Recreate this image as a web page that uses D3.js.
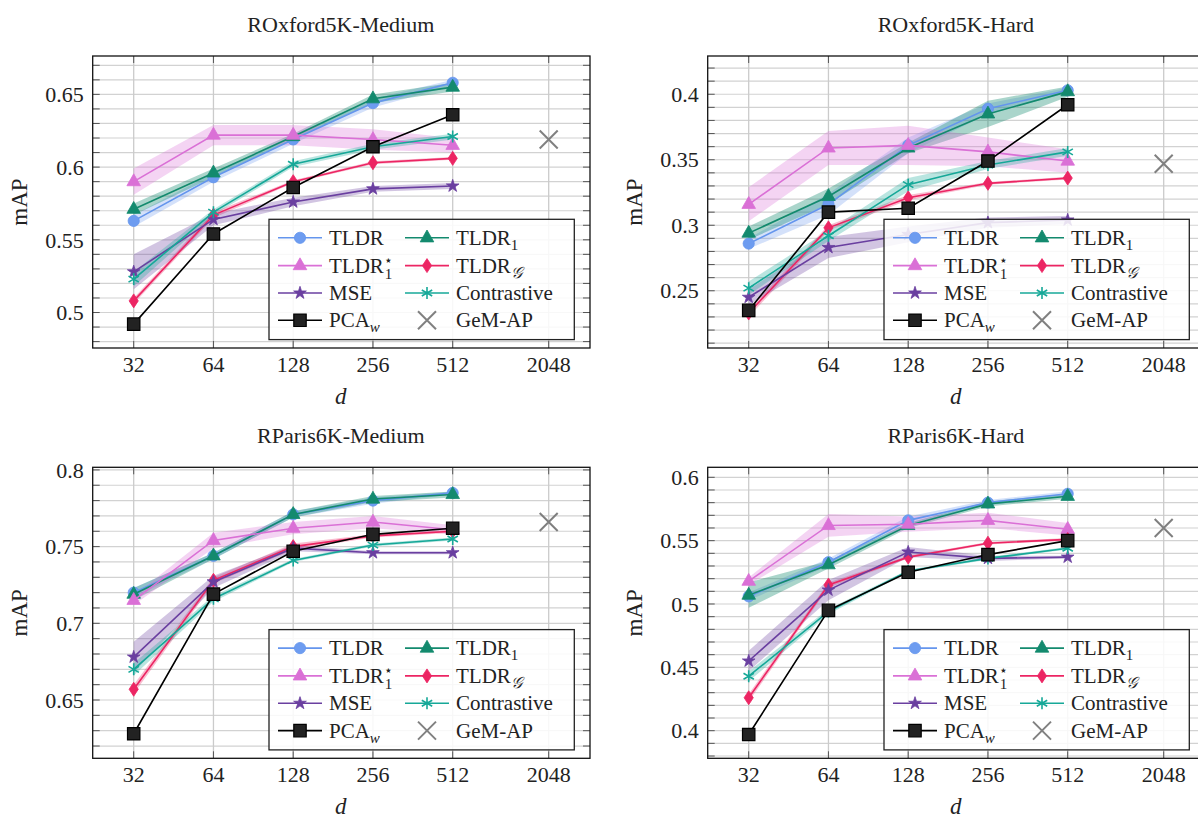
<!DOCTYPE html>
<html><head><meta charset="utf-8">
<script src="https://cdn.jsdelivr.net/npm/d3@7"></script>
<style>
html,body{margin:0;padding:0;background:#fff;}
svg text{font-family:'Liberation Serif','DejaVu Serif',serif;fill:#222;}
</style></head>
<body><svg id="c" width="1198" height="818" font-family="Liberation Serif, DejaVu Serif, serif"></svg>
<script>
// ---------- data ----------
const dims = [32, 64, 128, 256, 512, 2048];
const dimLabels = ["32", "64", "128", "256", "512", "2048"];
const methodDims = [32, 64, 128, 256, 512];
const gemDim = 2048;
const titles = ["ROxford5K-Medium", "ROxford5K-Hard", "RParis6K-Medium", "RParis6K-Hard"];

// ROxford5K-Medium
const oxM_TLDR = [0.563, 0.593, 0.619, 0.644, 0.658];
const oxM_TLDR_sd = [0.004, 0.003, 0.003, 0.003, 0.002];
const oxM_TLDR1 = [0.571, 0.596, 0.621, 0.647, 0.655];
const oxM_TLDR1_sd = [0.004, 0.003, 0.002, 0.003, 0.003];
const oxM_TLDR1s = [0.590, 0.622, 0.622, 0.619, 0.615];
const oxM_TLDR1s_sd = [0.009, 0.007, 0.007, 0.007, 0.005];
const oxM_TLDRG = [0.508, 0.567, 0.590, 0.603, 0.606];
const oxM_TLDRG_sd = [0.002, 0.002, 0.001, 0.001, 0.001];
const oxM_MSE = [0.528, 0.564, 0.576, 0.585, 0.587];
const oxM_MSE_sd = [0.012, 0.004, 0.003, 0.002, 0.002];
const oxM_Con = [0.523, 0.569, 0.602, 0.614, 0.621];
const oxM_Con_sd = [0.005, 0.002, 0.002, 0.002, 0.002];
const oxM_PCA = [0.492, 0.554, 0.586, 0.614, 0.636];
const oxM_GeM = 0.619;
const oxM_yTicks = [0.5, 0.55, 0.6, 0.65];

// ROxford5K-Hard
const oxH_TLDR = [0.286, 0.316, 0.361, 0.389, 0.403];
const oxH_TLDR_sd = [0.004, 0.008, 0.006, 0.004, 0.002];
const oxH_TLDR1 = [0.294, 0.322, 0.359, 0.385, 0.402];
const oxH_TLDR1_sd = [0.005, 0.006, 0.004, 0.010, 0.004];
const oxH_TLDR1s = [0.316, 0.359, 0.361, 0.356, 0.349];
const oxH_TLDR1s_sd = [0.013, 0.013, 0.015, 0.011, 0.009];
const oxH_TLDRG = [0.233, 0.298, 0.321, 0.332, 0.336];
const oxH_TLDRG_sd = [0.003, 0.002, 0.002, 0.001, 0.001];
const oxH_MSE = [0.245, 0.283, 0.293, 0.302, 0.304];
const oxH_MSE_sd = [0.006, 0.008, 0.006, 0.004, 0.003];
const oxH_Con = [0.252, 0.292, 0.331, 0.346, 0.356];
const oxH_Con_sd = [0.005, 0.004, 0.005, 0.003, 0.003];
const oxH_PCA = [0.235, 0.310, 0.313, 0.349, 0.392];
const oxH_GeM = 0.347;
const oxH_yTicks = [0.25, 0.3, 0.35, 0.4];

// RParis6K-Medium
const paM_TLDR = [0.720, 0.744, 0.771, 0.780, 0.785];
const paM_TLDR_sd = [0.003, 0.002, 0.002, 0.002, 0.001];
const paM_TLDR1 = [0.719, 0.744, 0.771, 0.781, 0.784];
const paM_TLDR1_sd = [0.004, 0.002, 0.002, 0.002, 0.002];
const paM_TLDR1s = [0.715, 0.754, 0.762, 0.766, 0.761];
const paM_TLDR1s_sd = [0.003, 0.005, 0.004, 0.004, 0.003];
const paM_TLDRG = [0.657, 0.728, 0.750, 0.757, 0.760];
const paM_TLDRG_sd = [0.003, 0.002, 0.002, 0.001, 0.001];
const paM_MSE = [0.678, 0.727, 0.749, 0.746, 0.746];
const paM_MSE_sd = [0.010, 0.004, 0.002, 0.001, 0.001];
const paM_Con = [0.670, 0.716, 0.741, 0.751, 0.755];
const paM_Con_sd = [0.004, 0.002, 0.001, 0.001, 0.001];
const paM_PCA = [0.628, 0.719, 0.747, 0.758, 0.762];
const paM_GeM = 0.766;
const paM_yTicks = [0.65, 0.7, 0.75, 0.8];

// RParis6K-Hard
const paH_TLDR = [0.506, 0.533, 0.566, 0.580, 0.587];
const paH_TLDR_sd = [0.003, 0.003, 0.003, 0.002, 0.002];
const paH_TLDR1 = [0.507, 0.531, 0.562, 0.579, 0.585];
const paH_TLDR1_sd = [0.010, 0.003, 0.002, 0.002, 0.002];
const paH_TLDR1s = [0.518, 0.562, 0.563, 0.566, 0.559];
const paH_TLDR1s_sd = [0.003, 0.009, 0.006, 0.006, 0.005];
const paH_TLDRG = [0.426, 0.515, 0.537, 0.548, 0.551];
const paH_TLDRG_sd = [0.003, 0.002, 0.001, 0.001, 0.001];
const paH_MSE = [0.455, 0.511, 0.541, 0.536, 0.537];
const paH_MSE_sd = [0.008, 0.008, 0.004, 0.002, 0.001];
const paH_Con = [0.443, 0.494, 0.526, 0.536, 0.544];
const paH_Con_sd = [0.004, 0.002, 0.001, 0.001, 0.001];
const paH_PCA = [0.397, 0.495, 0.525, 0.539, 0.550];
const paH_GeM = 0.560;
const paH_yTicks = [0.4, 0.45, 0.5, 0.55, 0.6];

// ---------- styles ----------
const FONT = "Liberation Serif, DejaVu Serif, serif";
const S = {
  TLDR:  {color:"#6495ED", fill:"#6d9cf0", shape:"circle", band:0.28},
  TLDR1: {color:"#138a6e", fill:"#138a6e", shape:"triangle", band:0.36},
  TLDR1s:{color:"#DA70D6", fill:"#DA70D6", shape:"triangle", band:0.3},
  TLDRG: {color:"#EC2563", fill:"#EC2563", shape:"diamond", band:0.3},
  MSE:   {color:"#6a3fa0", fill:"#6a3fa0", shape:"star", band:0.3},
  Con:   {color:"#16a898", fill:"#16a898", shape:"asterisk", band:0.3},
  PCA:   {color:"#000000", fill:"#222222", shape:"square"},
  GeM:   {color:"#808080", shape:"cross"}
};

const panelsData = [
  {t:0, yd:[0.4756,0.6764], yTicks:oxM_yTicks, s:{TLDR:[oxM_TLDR,oxM_TLDR_sd],TLDR1:[oxM_TLDR1,oxM_TLDR1_sd],TLDR1s:[oxM_TLDR1s,oxM_TLDR1s_sd],TLDRG:[oxM_TLDRG,oxM_TLDRG_sd],MSE:[oxM_MSE,oxM_MSE_sd],Con:[oxM_Con,oxM_Con_sd],PCA:[oxM_PCA,null]}, gem:oxM_GeM},
  {t:1, yd:[0.2063,0.4292], yTicks:oxH_yTicks, s:{TLDR:[oxH_TLDR,oxH_TLDR_sd],TLDR1:[oxH_TLDR1,oxH_TLDR1_sd],TLDR1s:[oxH_TLDR1s,oxH_TLDR1s_sd],TLDRG:[oxH_TLDRG,oxH_TLDRG_sd],MSE:[oxH_MSE,oxH_MSE_sd],Con:[oxH_Con,oxH_Con_sd],PCA:[oxH_PCA,null]}, gem:oxH_GeM},
  {t:2, yd:[0.612,0.8017], yTicks:paM_yTicks, s:{TLDR:[paM_TLDR,paM_TLDR_sd],TLDR1:[paM_TLDR1,paM_TLDR1_sd],TLDR1s:[paM_TLDR1s,paM_TLDR1s_sd],TLDRG:[paM_TLDRG,paM_TLDRG_sd],MSE:[paM_MSE,paM_MSE_sd],Con:[paM_Con,paM_Con_sd],PCA:[paM_PCA,null]}, gem:paM_GeM},
  {t:3, yd:[0.3782,0.6079], yTicks:paH_yTicks, s:{TLDR:[paH_TLDR,paH_TLDR_sd],TLDR1:[paH_TLDR1,paH_TLDR1_sd],TLDR1s:[paH_TLDR1s,paH_TLDR1s_sd],TLDRG:[paH_TLDRG,paH_TLDRG_sd],MSE:[paH_MSE,paH_MSE_sd],Con:[paH_Con,paH_Con_sd],PCA:[paH_PCA,null]}, gem:paH_GeM}
];
const order = ["TLDR","TLDR1","TLDR1s","TLDRG","MSE","Con","PCA"];

const layout = [
  {left:92.7, top:56, w:497.3, h:292},
  {left:707.7, top:56, w:497.3, h:292},
  {left:92.7, top:467.3, w:497.3, h:291},
  {left:707.7, top:467.3, w:497.3, h:291}
];

function symbolPath(shape){
  switch(shape){
    case "circle": return d3.symbol(d3.symbolCircle, Math.PI*5.6*5.6)();
    case "triangle": return "M0,-7.8L6.8,4.1L-6.8,4.1Z";
    case "diamond": return "M0,-7L4.6,0L0,7L-4.6,0Z";
    case "star": return d3.symbol(d3.symbolStar, 50)();
    case "asterisk": {
      let p=""; for(let k=0;k<3;k++){const a=Math.PI/2+k*Math.PI/3, r=6;
        p+=`M${(r*Math.cos(a)).toFixed(2)},${(-r*Math.sin(a)).toFixed(2)}L${(-r*Math.cos(a)).toFixed(2)},${(r*Math.sin(a)).toFixed(2)}`;}
      return p; }
    case "square": return "M-6.2,-6.2H6.2V6.2H-6.2Z";
    case "cross": return "M-9,-9L9,9M-9,9L9,-9";
  }
}
function drawMarker(g, key, x, y){
  const st = S[key];
  const p = g.append("path").attr("d", symbolPath(st.shape)).attr("transform", `translate(${x},${y})`);
  if(st.shape==="asterisk"){ p.attr("fill","none").attr("stroke",st.color).attr("stroke-width",1.6); }
  else if(st.shape==="cross"){ p.attr("fill","none").attr("stroke",st.color).attr("stroke-width",2); }
  else if(st.shape==="square"){ p.attr("fill",st.fill).attr("stroke","#000").attr("stroke-width",1.2); }
  else { p.attr("fill",st.fill).attr("stroke",st.color).attr("stroke-width",0.8); }
}

const svg = d3.select("#c");

panelsData.forEach((pd, i) => {
  const L = layout[i];
  const g = svg.append("g").attr("transform", `translate(${L.left},${L.top})`);
  const clipId = "clip"+i;
  svg.append("defs").append("clipPath").attr("id", clipId).append("rect").attr("x",0).attr("y",0).attr("width",L.w).attr("height",L.h);

  const x = d3.scaleLinear().domain([5, 9, 11]).range([41.0, 360.0, 456.0]);
  const xd = d => x(Math.log2(d));
  const y = d3.scaleLinear().domain(pd.yd).range([L.h, 0]);

  const inner = g.append("g").attr("clip-path", `url(#${clipId})`);
  // grid
  const minor = d3.range(Math.ceil(pd.yd[0]*100), Math.floor(pd.yd[1]*100)+1).map(v=>v/100);
  inner.selectAll(".hg").data(minor).join("line")
    .attr("x1",0).attr("x2",L.w).attr("y1",d=>y(d)).attr("y2",d=>y(d))
    .attr("stroke","#d2d2d2").attr("stroke-width",1.2);
  inner.selectAll(".vg").data(dims).join("line")
    .attr("y1",0).attr("y2",L.h).attr("x1",d=>xd(d)).attr("x2",d=>xd(d))
    .attr("stroke","#cbcbcb").attr("stroke-width",1.3);
  // ticks (inside, both sides)
  inner.selectAll(".ht").data(minor).join("path")
    .attr("d", d=>`M0,${y(d)}h7M${L.w},${y(d)}h-7`).attr("stroke","#555").attr("stroke-width",1);
  inner.selectAll(".vt").data(dims).join("path")
    .attr("d", d=>`M${xd(d)},0v7M${xd(d)},${L.h}v-7`).attr("stroke","#555").attr("stroke-width",1);

  // bands
  order.forEach(k => {
    const [m, sd] = pd.s[k];
    if(!sd) return;
    const rows = methodDims.map((d,j)=>({d, lo:m[j]-sd[j], hi:m[j]+sd[j]}));
    inner.append("path").datum(rows)
      .attr("d", d3.area().x(r=>xd(r.d)).y0(r=>y(r.lo)).y1(r=>y(r.hi)))
      .attr("fill", S[k].color).attr("fill-opacity", S[k].band).attr("stroke","none");
  });
  // lines + markers
  order.forEach(k => {
    const [m] = pd.s[k];
    const rows = methodDims.map((d,j)=>({d, v:m[j]}));
    inner.append("path").datum(rows)
      .attr("d", d3.line().x(r=>xd(r.d)).y(r=>y(r.v)))
      .attr("fill","none").attr("stroke", S[k].color).attr("stroke-width", 1.6);
    rows.forEach(r => drawMarker(inner, k, xd(r.d), y(r.v)));
  });
  drawMarker(inner, "GeM", xd(gemDim), y(pd.gem));

  // frame
  g.append("rect").attr("width",L.w).attr("height",L.h).attr("fill","none").attr("stroke","#111").attr("stroke-width",1.3);

  // x tick labels
  g.selectAll(".xl").data(dims).join("text")
    .attr("font-family", FONT)
    .attr("x", d=>xd(d)).attr("y", L.h+24).attr("text-anchor","middle")
    .attr("font-size", 22).text((d,j)=>dimLabels[j]);
  g.append("text").attr("font-family", FONT).attr("x", L.w/2 - 0.5).attr("y", L.h+56).attr("text-anchor","middle")
    .attr("font-size", 23).attr("font-style","italic").text("d");
  // y tick labels
  g.selectAll(".yl").data(pd.yTicks).join("text")
    .attr("font-family", FONT)
    .attr("x", -9).attr("y", d=>y(d)).attr("dy","0.35em").attr("text-anchor","end")
    .attr("font-size", 22).text(d=>d3.format("")(d));
  g.append("text").attr("font-family", FONT).attr("transform", `translate(-66,${L.h/2}) rotate(-90)`).attr("text-anchor","middle")
    .attr("font-size", 23).text("mAP");
  // title
  g.append("text").attr("font-family", FONT).attr("x", L.w/2 - 0.5).attr("y", -24).attr("text-anchor","middle")
    .attr("font-size", 22).text(titles[pd.t]);

  // legend
  const lg = g.append("g").attr("transform", `translate(${176.3},${L.h - 8.4 - 120.3})`);
  lg.append("rect").attr("width",305.3).attr("height",120.3).attr("fill","#fff").attr("fill-opacity",0.85)
    .attr("stroke","#222").attr("stroke-width",1.3);
  const entries = [
    {k:"TLDR", col:0, row:0}, {k:"TLDR1", col:1, row:0},
    {k:"TLDR1s", col:0, row:1}, {k:"TLDRG", col:1, row:1},
    {k:"MSE", col:0, row:2}, {k:"Con", col:1, row:2},
    {k:"PCA", col:0, row:3}, {k:"GeM", col:1, row:3}
  ];
  const rowY = [18.5, 46.3, 73.7, 101];
  entries.forEach(e => {
    const x0 = e.col===0 ? 9 : 136;
    const yy = rowY[e.row];
    if(e.k!=="GeM"){
      lg.append("line").attr("x1",x0).attr("x2",x0+44).attr("y1",yy).attr("y2",yy)
        .attr("stroke",S[e.k].color).attr("stroke-width",1.6);
    }
    drawMarker(lg, e.k, x0+22, yy);
    const t = lg.append("text").attr("font-family", FONT).attr("x", x0+51).attr("y", yy).attr("dy","0.33em").attr("font-size",21);
    if(e.k==="TLDR") t.text("TLDR");
    else if(e.k==="TLDR1"){ t.append("tspan").text("TLDR"); t.append("tspan").attr("font-size",15).attr("dy",5).text("1"); }
    else if(e.k==="TLDR1s"){ t.append("tspan").text("TLDR"); t.append("tspan").attr("font-size",14).attr("dy",-8).text("⋆"); t.append("tspan").attr("font-size",15).attr("dx",-8).attr("dy",14).text("1"); }
    else if(e.k==="TLDRG"){ t.append("tspan").text("TLDR"); t.append("tspan").attr("font-size",16).attr("font-style","italic").attr("dy",5).text("𝒢"); }
    else if(e.k==="MSE") t.text("MSE");
    else if(e.k==="Con") t.text("Contrastive");
    else if(e.k==="PCA"){ t.append("tspan").text("PCA"); t.append("tspan").attr("font-size",15).attr("font-style","italic").attr("dy",5).text("w"); }
    else t.text("GeM-AP");
  });
});
</script>
</body></html>
